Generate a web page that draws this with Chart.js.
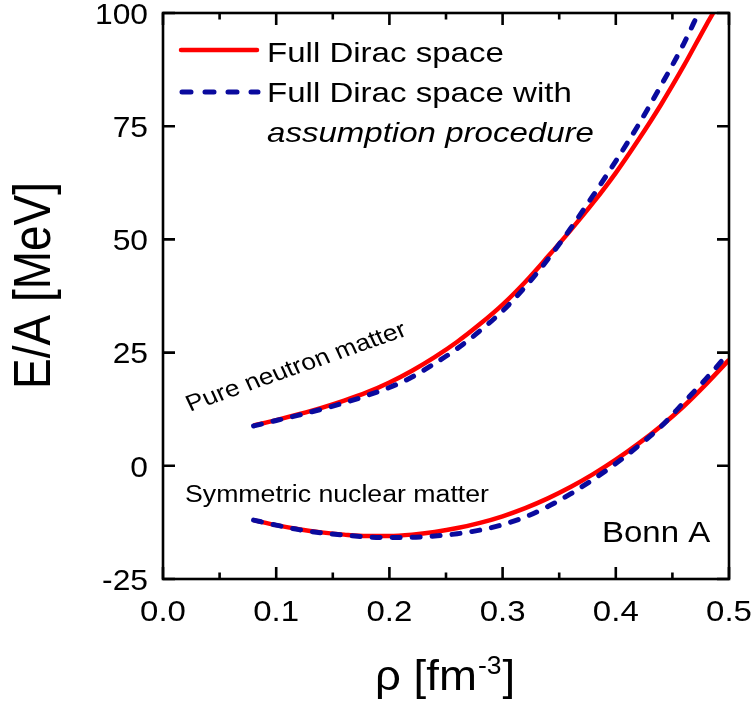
<!DOCTYPE html>
<html lang="en">
<head>
    <meta charset="UTF-8">
    <title>Bonn A - E/A vs density</title>
    <script src="https://cdn.jsdelivr.net/npm/chart.js"></script>
    <style>
        body {
            margin: 0;
            background: #ffffff;
            overflow: hidden;
        }

        .wrap {
            position: relative;
            width: 754px;
            height: 711px;
        }
    </style>
</head>
<body>
    <div class="wrap">
        <canvas id="chart"></canvas>
    </div>

    <script>
        // densities (fm^-3)
        const rhoGrid = [0.08, 0.10, 0.12, 0.14, 0.16, 0.18, 0.20, 0.22, 0.24, 0.26, 0.28,
                         0.30, 0.32, 0.34, 0.36, 0.38, 0.40, 0.42, 0.44, 0.46, 0.48, 0.50];

        // pure neutron matter, E/A in MeV
        const pnmRho = rhoGrid.slice(0, 21).concat([0.486]);
        const pnmFull = [8.9, 10.1, 11.4, 12.8, 14.4, 16.2, 18.4, 21.0, 24.0, 27.4, 31.3,
                         35.6, 40.6, 46.2, 52.0, 58.1, 64.7, 72.0, 79.8, 88.3, 97.4, 100.0];
        const pnmAssumRho = rhoGrid.slice(0, 20).concat([0.473]);
        const pnmAssum = [8.8, 10.0, 11.2, 12.5, 13.9, 15.5, 17.3, 19.6, 22.6, 25.9, 29.8,
                          34.2, 39.5, 45.6, 52.4, 59.7, 67.3, 75.3, 84.0, 93.2, 100.0];

        // symmetric nuclear matter, E/A in MeV
        const snmFull = [-12.0, -13.1, -14.0, -14.7, -15.2, -15.5, -15.5, -15.2, -14.6, -13.75, -12.6,
                         -11.15, -9.35, -7.2, -4.7, -1.85, 1.35, 4.9, 8.8, 13.15, 18.1, 23.4];
        const snmAssum = [-12.0, -13.1, -14.1, -14.8, -15.3, -15.7, -15.85, -15.8, -15.5, -15.0, -14.2,
                          -13.0, -11.3, -9.0, -6.2, -3.0, 0.5, 4.4, 8.7, 14.0, 19.3, 25.0];

        // axis ticks
        const xTicks = [0.0, 0.1, 0.2, 0.3, 0.4, 0.5];
        const xTickLabels = ['0.0', '0.1', '0.2', '0.3', '0.4', '0.5'];
        const xMinorTicks = [0.05, 0.15, 0.25, 0.35, 0.45];
        const yTicks = [-25, 0, 25, 50, 75, 100];
        const yTickLabels = ['-25', '0', '25', '50', '75', '100'];

        const RED = '#ff0000';
        const BLUE = '#0a0a9e';
        const FONT = "'Liberation Sans', Arial, sans-serif";

        function toPoints(xs, ys) {
            return ys.map((y, i) => ({ x: xs[i], y: y }));
        }

        function fullLine(data) {
            return {
                data: data,
                borderColor: RED,
                borderWidth: 4.5,
                pointRadius: 0,
                cubicInterpolationMode: 'monotone',
                order: 1
            };
        }

        function assumLine(data) {
            return {
                data: data,
                borderColor: BLUE,
                borderWidth: 5,
                borderDash: [8, 12],
                borderCapStyle: 'round',
                pointRadius: 0,
                cubicInterpolationMode: 'monotone',
                order: 0
            };
        }

        // text stretched horizontally like the rest of the figure
        function drawText(ctx, text, x, y, font, sx, align) {
            ctx.save();
            ctx.font = font;
            ctx.textAlign = align || 'left';
            ctx.textBaseline = 'alphabetic';
            ctx.translate(x, y);
            ctx.scale(sx, 1);
            ctx.fillText(text, 0, 0);
            ctx.restore();
        }

        const frameAndText = {
            id: 'frameAndText',
            afterDatasetsDraw(chart) {
                const ctx = chart.ctx;
                const area = chart.chartArea;
                const xs = chart.scales.x;
                const ys = chart.scales.y;

                ctx.save();
                ctx.fillStyle = '#000';
                ctx.strokeStyle = '#000';
                ctx.lineWidth = 2.6;
                ctx.strokeRect(area.left, area.top, area.right - area.left, area.bottom - area.top);

                // inward ticks on all four sides
                ctx.beginPath();
                xTicks.forEach(v => {
                    const px = xs.getPixelForValue(v);
                    ctx.moveTo(px, area.bottom); ctx.lineTo(px, area.bottom - 12);
                    ctx.moveTo(px, area.top); ctx.lineTo(px, area.top + 12);
                });
                xMinorTicks.forEach(v => {
                    const px = xs.getPixelForValue(v);
                    ctx.moveTo(px, area.bottom); ctx.lineTo(px, area.bottom - 6.5);
                    ctx.moveTo(px, area.top); ctx.lineTo(px, area.top + 6.5);
                });
                yTicks.forEach(v => {
                    const py = ys.getPixelForValue(v);
                    ctx.moveTo(area.left, py); ctx.lineTo(area.left + 12, py);
                    ctx.moveTo(area.right, py); ctx.lineTo(area.right - 12, py);
                });
                ctx.stroke();

                // tick labels
                xTicks.forEach((v, i) => {
                    drawText(ctx, xTickLabels[i], xs.getPixelForValue(v), 621, '30px ' + FONT, 1.1, 'center');
                });
                yTicks.forEach((v, i) => {
                    drawText(ctx, yTickLabels[i], 148, ys.getPixelForValue(v) + 10.8, '30px ' + FONT, 1.06, 'right');
                });

                // y axis title
                ctx.save();
                ctx.font = '46px ' + FONT;
                ctx.textAlign = 'center';
                ctx.translate(50, 285.5);
                ctx.scale(1.12, 1);
                ctx.rotate(-Math.PI / 2);
                ctx.fillText('E/A [MeV]', 0, 0);
                ctx.restore();

                // x axis title with superscript
                ctx.save();
                ctx.translate(375, 690);
                ctx.scale(1.06, 1);
                ctx.font = '43px ' + FONT;
                const base = 'ρ [fm';
                ctx.fillText(base, 0, 0);
                let w = ctx.measureText(base).width;
                ctx.font = '25px ' + FONT;
                ctx.fillText('-3', w + 1, -16);
                w += ctx.measureText('-3').width + 2;
                ctx.font = '43px ' + FONT;
                ctx.fillText(']', w, 0);
                ctx.restore();

                // legend
                ctx.lineWidth = 4.5;
                ctx.strokeStyle = RED;
                ctx.lineCap = 'round';
                ctx.beginPath();
                ctx.moveTo(181, 50); ctx.lineTo(257, 50);
                ctx.stroke();
                ctx.strokeStyle = BLUE;
                ctx.lineWidth = 5;
                ctx.setLineDash([9, 14]);
                ctx.beginPath();
                ctx.moveTo(182, 92); ctx.lineTo(258, 92);
                ctx.stroke();
                ctx.setLineDash([]);
                ctx.lineCap = 'butt';

                drawText(ctx, 'Full Dirac space', 267, 61.7, '28px ' + FONT, 1.18);
                drawText(ctx, 'Full Dirac space with', 267, 101.7, '28px ' + FONT, 1.18);
                drawText(ctx, 'assumption procedure', 267, 141.7, 'italic 28px ' + FONT, 1.18);

                // curve annotations
                ctx.save();
                ctx.font = '23px ' + FONT;
                ctx.translate(190, 411.7);
                ctx.scale(1.15, 1);
                ctx.rotate(-22 * Math.PI / 180);
                ctx.fillText('Pure neutron matter', 0, 0);
                ctx.restore();

                drawText(ctx, 'Symmetric nuclear matter', 185, 502, '23px ' + FONT, 1.16);
                drawText(ctx, 'Bonn A', 602, 541.7, '30px ' + FONT, 1.1);

                ctx.restore();
            }
        };

        const ctx = document.getElementById('chart').getContext('2d');

        const myChart = new Chart(ctx, {
            type: 'line',
            data: {
                datasets: [
                    fullLine(toPoints(pnmRho, pnmFull)),
                    assumLine(toPoints(pnmAssumRho, pnmAssum)),
                    fullLine(toPoints(rhoGrid, snmFull)),
                    assumLine(toPoints(rhoGrid, snmAssum))
                ]
            },
            options: {
                responsive: true,
                maintainAspectRatio: false,
                animation: false,
                events: [],
                layout: {
                    padding: { left: 163, top: 13, right: 25, bottom: 132 }
                },
                scales: {
                    x: { type: 'linear', min: 0, max: 0.5, display: false },
                    y: { type: 'linear', min: -25, max: 100, display: false }
                },
                plugins: {
                    legend: { display: false },
                    tooltip: { enabled: false }
                }
            },
            plugins: [frameAndText]
        });
    </script>
</body>
</html>
